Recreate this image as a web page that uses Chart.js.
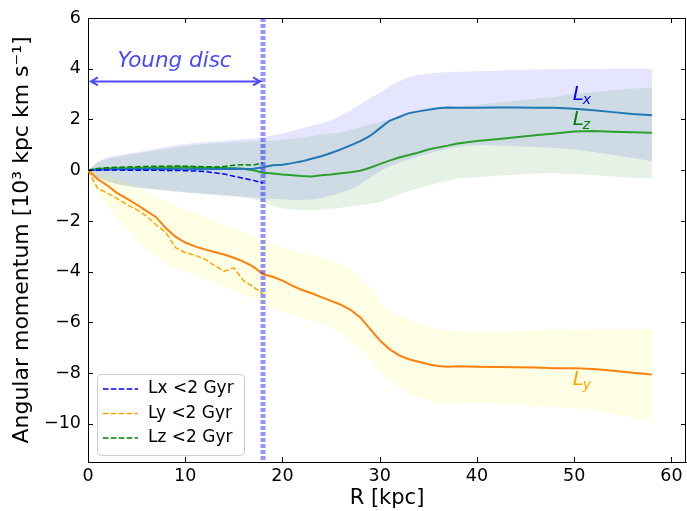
<!DOCTYPE html>
<html>
<head>
<meta charset="utf-8">
<script src="https://cdn.jsdelivr.net/npm/chart.js@4.4.0/dist/chart.umd.min.js"></script>
<style>
  body { margin: 0; background: #fff; }
  canvas { display: block; }
</style>
</head>
<body>
<canvas id="momentumChart" width="687" height="511"></canvas>
<script>
// radius grid (kpc) for the whole-disc profiles
const R = [0, 1, 2, 3, 4, 5, 6, 7, 8, 9, 10, 11, 12, 13, 14, 15, 16, 17, 18, 19,
  20, 21, 22, 23, 24, 25, 26, 27, 28, 29, 30, 31, 32, 33, 34, 35, 36, 37, 38,
  40, 42, 44, 46, 48, 50, 52, 54, 56, 58];

// angular momentum, 10^3 kpc km/s
const LX = [0, 0.02, 0.03, 0.04, 0.04, 0.05, 0.05, 0.06, 0.05, 0.05,
  0.04, 0.05, 0.04, 0.05, 0.05, 0.06, 0.05, 0.06, 0.12, 0.2,
  0.22, 0.28, 0.35, 0.45, 0.55, 0.68, 0.82, 0.98, 1.15, 1.35,
  1.65, 1.95, 2.1, 2.25, 2.32, 2.38, 2.44, 2.47, 2.46,
  2.46, 2.47, 2.47, 2.46, 2.46, 2.42, 2.36, 2.29, 2.22, 2.17];
const LX_HI = [0, 0.35, 0.5, 0.58, 0.65, 0.7, 0.78, 0.85, 0.92, 0.98,
  1.03, 1.07, 1.1, 1.13, 1.16, 1.19, 1.22, 1.25, 1.3, 1.38,
  1.45, 1.55, 1.65, 1.75, 1.85, 1.97, 2.15, 2.35, 2.6, 2.85,
  3.05, 3.3, 3.5, 3.68, 3.75, 3.8, 3.85, 3.87, 3.88,
  3.9, 3.92, 3.95, 3.97, 3.98, 3.99, 3.99, 4.0, 4.0, 4.0];
const LX_LO = [0, -0.3, -0.45, -0.55, -0.62, -0.68, -0.72, -0.76, -0.8, -0.84,
  -0.87, -0.9, -0.93, -0.96, -0.99, -1.02, -1.05, -1.08, -1.1, -1.12,
  -1.15, -1.17, -1.18, -1.15, -1.1, -1.0, -0.9, -0.75, -0.55, -0.3,
  -0.05, 0.15, 0.3, 0.42, 0.55, 0.65, 0.75, 0.85, 0.92,
  0.98, 0.97, 0.95, 0.92, 0.88, 0.82, 0.72, 0.6, 0.48, 0.35];

const LZ = [0, 0.05, 0.07, 0.08, 0.08, 0.09, 0.1, 0.1, 0.11, 0.12,
  0.12, 0.11, 0.1, 0.1, 0.09, 0.08, 0.06, 0.0, -0.1, -0.13,
  -0.17, -0.2, -0.23, -0.25, -0.2, -0.17, -0.12, -0.08, -0.02, 0.1,
  0.24, 0.38, 0.5, 0.6, 0.7, 0.82, 0.9, 0.97, 1.05,
  1.15, 1.22, 1.3, 1.38, 1.45, 1.53, 1.55, 1.52, 1.5, 1.48];
const LZ_HI = [0, 0.3, 0.45, 0.52, 0.6, 0.66, 0.72, 0.78, 0.84, 0.9,
  0.95, 1.0, 1.03, 1.06, 1.08, 1.1, 1.12, 1.14, 1.15, 1.17,
  1.2, 1.25, 1.3, 1.35, 1.4, 1.45, 1.5, 1.6, 1.7, 1.8,
  1.9, 2.0, 2.1, 2.2, 2.28, 2.35, 2.4, 2.45, 2.5,
  2.58, 2.66, 2.74, 2.82, 2.9, 3.0, 3.08, 3.15, 3.22, 3.27];
const LZ_LO = [0, -0.3, -0.45, -0.55, -0.62, -0.68, -0.72, -0.76, -0.8, -0.84,
  -0.88, -0.92, -0.95, -0.98, -1.01, -1.04, -1.08, -1.12, -1.25, -1.4,
  -1.5, -1.55, -1.58, -1.58, -1.55, -1.52, -1.48, -1.42, -1.37, -1.32,
  -1.26, -1.1, -0.95, -0.82, -0.7, -0.6, -0.5, -0.4, -0.33,
  -0.28, -0.22, -0.17, -0.13, -0.12, -0.15, -0.2, -0.25, -0.3, -0.33];

const LY = [0, -0.35, -0.6, -0.9, -1.12, -1.35, -1.6, -1.85, -2.28, -2.62,
  -2.85, -3.0, -3.12, -3.22, -3.32, -3.45, -3.6, -3.8, -4.1, -4.2,
  -4.35, -4.55, -4.72, -4.85, -5.0, -5.15, -5.3, -5.5, -5.8, -6.25,
  -6.7, -7.05, -7.3, -7.45, -7.55, -7.65, -7.72, -7.75, -7.73,
  -7.75, -7.76, -7.77, -7.78, -7.8, -7.8, -7.83, -7.9, -7.98, -8.05];
const LY_HI = [0, -0.1, -0.2, -0.35, -0.5, -0.65, -0.85, -1.05, -1.25, -1.4,
  -1.55, -1.7, -1.85, -2.0, -2.15, -2.3, -2.45, -2.6, -2.75, -2.9,
  -3.05, -3.15, -3.25, -3.35, -3.45, -3.55, -3.7, -3.9, -4.2, -4.6,
  -5.2, -5.55, -5.75, -5.9, -6.05, -6.15, -6.25, -6.3, -6.33,
  -6.36, -6.35, -6.33, -6.31, -6.3, -6.29, -6.28, -6.27, -6.26, -6.26];
const LY_LO = [0, -0.9, -1.4, -1.9, -2.35, -2.75, -3.1, -3.4, -3.65, -3.85,
  -4.0, -4.15, -4.3, -4.45, -4.6, -4.75, -4.9, -5.05, -5.25, -5.45,
  -5.6, -5.7, -5.8, -5.9, -6.05, -6.2, -6.4, -6.7, -7.05, -7.45,
  -7.95, -8.3, -8.55, -8.8, -8.95, -9.05, -9.15, -9.18, -9.17,
  -9.13, -9.2, -9.25, -9.3, -9.33, -9.37, -9.45, -9.6, -9.75, -9.92];

// stars younger than 2 Gyr, only inside the young disc
const R_YOUNG = [0, 1, 2, 3, 4, 5, 6, 7, 8, 9, 10, 11, 12, 13, 14, 15, 16, 17, 18];
const LX_YOUNG = [0, 0.0, 0.01, 0.01, 0.0, 0.0, 0.0, 0.0, -0.01, -0.01,
  -0.02, -0.03, -0.05, -0.1, -0.15, -0.24, -0.32, -0.4, -0.5];
const LY_YOUNG = [0, -0.72, -0.9, -1.12, -1.35, -1.55, -1.8, -2.15, -2.45, -3.05,
  -3.25, -3.35, -3.5, -3.75, -3.98, -3.85, -4.35, -4.6, -4.88];
const LZ_YOUNG = [0, 0.07, 0.1, 0.12, 0.13, 0.14, 0.15, 0.16, 0.16, 0.17,
  0.16, 0.15, 0.14, 0.13, 0.15, 0.2, 0.22, 0.2, 0.3];

const X_TICKS = [0, 10, 20, 30, 40, 50, 60];
const Y_TICKS = [-10, -8, -6, -4, -2, 0, 2, 4, 6];
const DISC_EDGE = 18;      // kpc
const ARROW_LEVEL = 3.5;

const FONT = "'DejaVu Sans', sans-serif";

function series(xs, ys) {
  return xs.map((x, i) => ({ x: x, y: ys[i] }));
}

function band(hi, lo, color) {
  return [
    { label: '', data: series(R, hi), fill: '+1', backgroundColor: color,
      borderWidth: 0, pointRadius: 0 },
    { label: '', data: series(R, lo), fill: false, borderWidth: 0, pointRadius: 0 }
  ];
}

function line(label, xs, ys, color, width, dash) {
  return { label: label, data: series(xs, ys), borderColor: color, borderWidth: width,
    borderDash: dash || [], pointRadius: 0, fill: false, tension: 0, young: !!dash };
}

const DASH = [5.5, 2.4];

const datasets = [
  line('Lx <2 Gyr', R_YOUNG, LX_YOUNG, 'blue', 1.5, DASH),
  line('Ly <2 Gyr', R_YOUNG, LY_YOUNG, 'orange', 1.5, DASH),
  line('Lz <2 Gyr', R_YOUNG, LZ_YOUNG, 'green', 1.5, DASH),
  line('Lx', R, LX, '#1f77b4', 2),
  line('Lz', R, LZ, '#2ca02c', 2),
  line('Ly', R, LY, '#ff7f0e', 2),
  ...band(LY_HI, LY_LO, 'rgba(255,255,0,0.1)'),
  ...band(LZ_HI, LZ_LO, 'rgba(0,128,0,0.1)'),
  ...band(LX_HI, LX_LO, 'rgba(0,0,255,0.1)')
];

const fmt = v => (v < 0 ? '\u2212' + Math.abs(v) : String(v));

// frame, inward ticks, young-disc marker, component labels and legend
const decor = {
  id: 'decor',
  afterDatasetsDraw(chart) {
    const { ctx, chartArea: ca, scales: { x, y } } = chart;
    ctx.save();

    // young disc edge
    const xe = x.getPixelForValue(DISC_EDGE);
    ctx.strokeStyle = 'rgba(0,0,255,0.42)';
    ctx.lineWidth = 5;
    ctx.setLineDash([4, 2]);
    ctx.beginPath();
    ctx.moveTo(xe, ca.top);
    ctx.lineTo(xe, ca.bottom);
    ctx.stroke();
    ctx.setLineDash([]);

    // double arrow
    const ya = y.getPixelForValue(ARROW_LEVEL);
    const x0 = x.getPixelForValue(0.3), x1 = x.getPixelForValue(17.7);
    ctx.strokeStyle = 'rgba(0,0,255,0.7)';
    ctx.lineWidth = 2;
    ctx.beginPath();
    ctx.moveTo(x0, ya); ctx.lineTo(x1, ya);
    ctx.moveTo(x0 + 7, ya - 4); ctx.lineTo(x0, ya); ctx.lineTo(x0 + 7, ya + 4);
    ctx.moveTo(x1 - 7, ya - 4); ctx.lineTo(x1, ya); ctx.lineTo(x1 - 7, ya + 4);
    ctx.stroke();

    ctx.fillStyle = 'rgba(0,0,255,0.72)';
    ctx.font = 'italic 21.5px ' + FONT;
    ctx.textAlign = 'center';
    ctx.textBaseline = 'alphabetic';
    ctx.fillText('Young disc', x.getPixelForValue(8.9), y.getPixelForValue(4.05));

    // component labels
    const sub = (main, s, rx, ry, color) => {
      const px = x.getPixelForValue(rx), py = y.getPixelForValue(ry);
      ctx.fillStyle = color;
      ctx.textAlign = 'left';
      ctx.font = 'italic 20px ' + FONT;
      ctx.fillText(main, px, py);
      const w = ctx.measureText(main).width;
      ctx.font = 'italic 14px ' + FONT;
      ctx.fillText(s, px + w - 1, py + 4);
    };
    sub('L', 'x', 49.85, 2.76, 'blue');
    sub('L', 'z', 49.85, 1.77, 'green');
    sub('L', 'y', 49.85, -8.46, 'orange');

    // top/right frame and inward ticks
    ctx.strokeStyle = '#000';
    ctx.lineWidth = 1;
    ctx.beginPath();
    ctx.moveTo(ca.left, ca.top + 0.5); ctx.lineTo(ca.right, ca.top + 0.5);
    ctx.moveTo(ca.right - 0.5, ca.top); ctx.lineTo(ca.right - 0.5, ca.bottom);
    X_TICKS.forEach(v => {
      const px = Math.round(x.getPixelForValue(v)) + 0.5;
      ctx.moveTo(px, ca.bottom); ctx.lineTo(px, ca.bottom - 5);
      ctx.moveTo(px, ca.top); ctx.lineTo(px, ca.top + 5);
    });
    Y_TICKS.forEach(v => {
      const py = Math.round(y.getPixelForValue(v)) + 0.5;
      ctx.moveTo(ca.left, py); ctx.lineTo(ca.left + 5, py);
      ctx.moveTo(ca.right, py); ctx.lineTo(ca.right - 5, py);
    });
    ctx.stroke();

    // legend for the young-star profiles
    const items = chart.data.datasets.filter(d => d.young);
    const bx = ca.left + 9, by = ca.bottom - 88, bw = 147, bh = 81;
    ctx.fillStyle = 'rgba(255,255,255,0.8)';
    ctx.strokeStyle = '#cccccc';
    ctx.beginPath();
    ctx.roundRect(bx + 0.5, by + 0.5, bw, bh, 4);
    ctx.fill();
    ctx.stroke();
    ctx.font = '17px ' + FONT;
    ctx.textBaseline = 'middle';
    items.forEach((d, i) => {
      const ry = by + 15 + i * 24.5;
      ctx.strokeStyle = d.borderColor;
      ctx.lineWidth = 1.5;
      ctx.setLineDash(d.borderDash);
      ctx.beginPath();
      ctx.moveTo(bx + 6, ry); ctx.lineTo(bx + 41, ry);
      ctx.stroke();
      ctx.setLineDash([]);
      ctx.fillStyle = '#000';
      ctx.fillText(d.label, bx + 51, ry);
    });
    ctx.restore();
  }
};

new Chart(document.getElementById('momentumChart'), {
  type: 'line',
  data: { datasets: datasets },
  plugins: [decor],
  options: {
    responsive: false,
    animation: false,
    devicePixelRatio: 1,
    layout: { padding: { top: 18, right: 1, left: 0, bottom: 0 } },
    plugins: {
      legend: { display: false },
      tooltip: { enabled: false },
      filler: { drawTime: 'beforeDatasetsDraw' }
    },
    scales: {
      x: {
        type: 'linear',
        min: 0,
        max: 61.5,
        afterBuildTicks: s => { s.ticks = X_TICKS.map(v => ({ value: v })); },
        afterFit: s => { s.height = 49; },
        grid: { display: false, drawTicks: false },
        border: { display: true, color: '#000', width: 1 },
        ticks: { color: '#000', font: { size: 17.5, family: FONT }, padding: 4,
          maxRotation: 0, autoSkip: false, callback: v => fmt(v) },
        title: { display: true, text: 'R [kpc]', color: '#000',
          font: { size: 21, family: FONT }, padding: { top: 0, bottom: 0 } }
      },
      y: {
        type: 'linear',
        min: -11.5,
        max: 6,
        afterBuildTicks: s => { s.ticks = Y_TICKS.map(v => ({ value: v })); },
        afterFit: s => { s.width = 88; },
        grid: { display: false, drawTicks: false },
        border: { display: true, color: '#000', width: 1 },
        ticks: { color: '#000', font: { size: 17.5, family: FONT }, padding: 7,
          callback: v => fmt(v) },
        title: { display: true, text: 'Angular momentum [10\u00b3 kpc km s\u207b\u00b9]',
          color: '#000', font: { size: 22, family: FONT }, padding: { top: 9, bottom: 0 } }
      }
    }
  }
});
</script>
</body>
</html>
